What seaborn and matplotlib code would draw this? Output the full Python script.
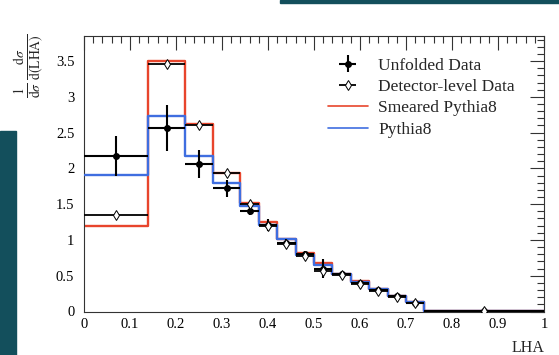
import numpy as np
import pandas as pd
import matplotlib
matplotlib.use("Agg")
import matplotlib.pyplot as plt
from matplotlib.patches import Rectangle
from matplotlib.ticker import MultipleLocator, FixedLocator, FixedFormatter
import seaborn as sns

# ---------------- data ----------------
bin_edges = [0.0, 0.14, 0.22, 0.28, 0.34, 0.38, 0.42, 0.46, 0.50, 0.54,
             0.58, 0.62, 0.66, 0.70, 0.74, 1.0]
smeared_pythia8 = [1.19, 3.50, 2.62, 1.94, 1.52, 1.25, 1.02, 0.82, 0.68,
                   0.53, 0.42, 0.31, 0.22, 0.13, 0.003]
pythia8 = [1.91, 2.73, 2.17, 1.80, 1.48, 1.21, 1.01, 0.79, 0.65,
           0.53, 0.41, 0.31, 0.22, 0.13, 0.003]
unfolded = [2.17, 2.56, 2.06, 1.72, 1.41, 1.21, 0.96, 0.80, 0.60,
            0.52, 0.40, 0.30, 0.21, 0.12, 0.005]
unfolded_err = [0.28, 0.32, 0.20, 0.12, 0.06, 0.08, 0.06, 0.05, 0.13,
                0.04, 0.03, 0.03, 0.03, 0.02, 0.005]
detector = [1.35, 3.46, 2.60, 1.93, 1.50, 1.19, 0.95, 0.78, 0.57,
            0.51, 0.39, 0.29, 0.20, 0.12, 0.008]
x_ticks = [0, 0.1, 0.2, 0.3, 0.4, 0.5, 0.6, 0.7, 0.8, 0.9, 1.0]
x_tick_labels = ["0", "0.1", "0.2", "0.3", "0.4", "0.5", "0.6", "0.7", "0.8", "0.9", "1"]
y_ticks = [0, 0.5, 1, 1.5, 2, 2.5, 3, 3.5]
y_tick_labels = ["0", "0.5", "1", "1.5", "2", "2.5", "3", "3.5"]

edges = np.array(bin_edges)
centers = 0.5 * (edges[:-1] + edges[1:])
half_w = 0.5 * np.diff(edges)

df = pd.DataFrame({"LHA": centers, "smeared": smeared_pythia8, "pythia": pythia8})

# ---------------- style ----------------
sns.set_theme(style="white")
plt.rcParams["font.family"] = ["Liberation Serif", "DejaVu Serif"]
plt.rcParams["mathtext.fontset"] = "stix"

RED = "#e8452c"
BLUE = "#3f6ee0"
TEAL = "#134f5c"

fig = plt.figure(figsize=(5.59, 3.55), dpi=100)
ax = fig.add_axes([84 / 559, 1 - 311.5 / 355, 460 / 559, 275.5 / 355])

# decorative slide elements
fig.patches.append(Rectangle((280 / 559, 1 - 3 / 355), 1, 3 / 355,
                             transform=fig.transFigure, color=TEAL, zorder=0))
fig.patches.append(Rectangle((0, 0), 16 / 559, 1 - 131 / 355,
                             transform=fig.transFigure, color=TEAL, zorder=0))

sns.histplot(data=df, x="LHA", weights="smeared", bins=list(bin_edges), element="step",
             fill=False, color=RED, linewidth=1.7, ax=ax, zorder=2)
sns.histplot(data=df, x="LHA", weights="pythia", bins=list(bin_edges), element="step",
             fill=False, color=BLUE, linewidth=1.7, ax=ax, zorder=3)

eb1 = ax.errorbar(centers, unfolded, xerr=half_w, yerr=unfolded_err, fmt="o",
                  color="black", ms=4, elinewidth=1.5, capsize=0, zorder=4)
eb2 = ax.errorbar(centers, detector, xerr=half_w, fmt="d", color="black",
                  mfc="white", mec="black", mew=0.7, ms=5.5, elinewidth=1.3,
                  capsize=0, zorder=5)

h_red = plt.Line2D([], [], color=RED, lw=1.2)
h_blue = plt.Line2D([], [], color=BLUE, lw=1.2)
ax.legend([eb1, eb2, h_red, h_blue],
          ["Unfolded Data", "Detector-level Data", "Smeared Pythia8", "Pythia8"],
          loc="upper left", bbox_to_anchor=(0.515, 0.947), frameon=False,
          fontsize=12.5, handlelength=2.3, labelspacing=0.3, handletextpad=0.6,
          borderaxespad=0)

ax.set_xlim(0, 1)
ax.set_ylim(0, 3.85)
ax.xaxis.set_major_locator(FixedLocator(x_ticks))
ax.xaxis.set_major_formatter(FixedFormatter(x_tick_labels))
ax.yaxis.set_major_locator(FixedLocator(y_ticks))
ax.yaxis.set_major_formatter(FixedFormatter(y_tick_labels))
ax.xaxis.set_minor_locator(MultipleLocator(0.02))
ax.yaxis.set_minor_locator(MultipleLocator(0.1))
ax.tick_params(which="both", direction="in", top=True, right=True,
               colors="#333333", labelcolor="black", labelsize=10.5)
ax.tick_params(which="major", length=10, width=0.8)
ax.tick_params(which="minor", length=5, width=0.8)
ax.tick_params(axis="x", which="major", pad=5)
ax.tick_params(axis="y", which="major", pad=7)
for s in ax.spines.values():
    s.set_color("#333333")
    s.set_linewidth(0.8)

ax.set_xlabel("LHA", loc="right", fontsize=11.5, labelpad=6)
ax.set_ylabel("")
fig.text(29 / 559, 1 - 34 / 355,
         r"$\frac{1}{\mathrm{d}\sigma}\,\frac{\mathrm{d}\sigma}{\mathrm{d(LHA)}}$",
         rotation=90, ha="center", va="top", fontsize=14)

fig.savefig("out.png", dpi=100)
